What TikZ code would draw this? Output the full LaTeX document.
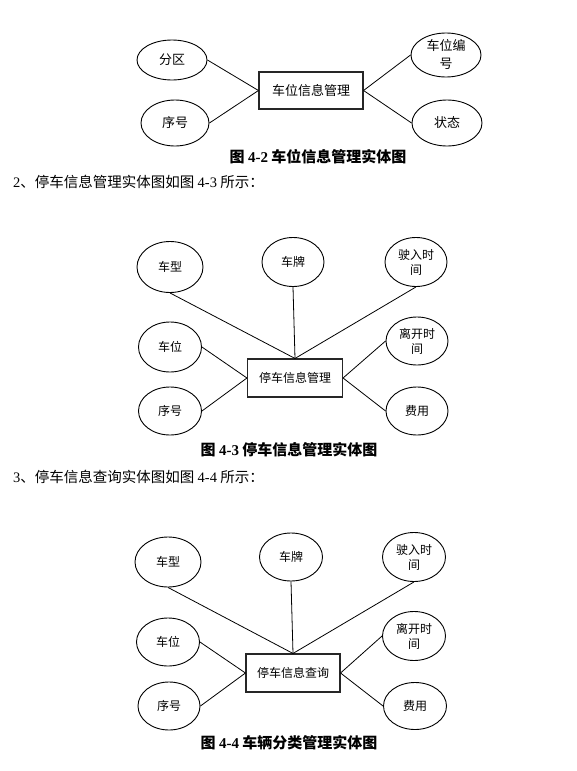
\documentclass[tikz,border=0pt]{standalone}
\usepackage{fontspec}
\setmainfont{Noto Sans CJK SC}
\newfontfamily\latinserif{Liberation Serif}
\usetikzlibrary{shapes.geometric}
\tikzset{
  attr/.style={draw=black, line width=0.9pt, ellipse, inner sep=0pt, align=center, font=\fontsize{12}{15}\selectfont},
  ent/.style={draw=black!85, line width=1.1pt, rectangle, inner sep=0pt, font=\fontsize{12.5}{15}\selectfont},
  link/.style={draw=black, line width=0.8pt},
  caption/.style={font=\fontsize{15}{18}\selectfont\bfseries},
  bodytext/.style={anchor=west, inner sep=0pt, font=\fontsize{14.5}{17}\selectfont}
}
\begin{document}
\begin{tikzpicture}[x=1pt,y=-1pt]
\useasboundingbox (0,0) rectangle (576,771);
% ---------- Figure 4-2 ----------
\node[ent, minimum width=104pt, minimum height=37pt, font=\fontsize{13}{15}\selectfont] (e1) at (311,90.5) {车位信息管理};
\node[attr, minimum width=70pt, minimum height=40pt, font=\fontsize{13}{15}\selectfont] (fq) at (172,60) {分区};
\node[attr, minimum width=68pt, minimum height=46pt, font=\fontsize{13}{15}\selectfont] (xh1) at (175,123) {序号};
\node[attr, minimum width=70pt, minimum height=44pt, font=\fontsize{13}{18}\selectfont] (cwbh) at (446,55) {车位编\\号};
\node[attr, minimum width=70pt, minimum height=46pt, font=\fontsize{13}{15}\selectfont] (zt) at (447,123) {状态};
\draw[link] (fq.east) -- (e1.west);
\draw[link] (xh1.east) -- (e1.west);
\draw[link] (cwbh.west) -- (e1.east);
\draw[link] (zt.west) -- (e1.east);
\node[caption] (cap1) at (318,157) {图 {\latinserif 4-2} 车位信息管理实体图};
\node[bodytext] (t2) at (13,182) {{\latinserif 2}、停车信息管理实体图如图 {\latinserif 4-3} 所示：};
% ---------- Figure 4-3 ----------
\node[ent, minimum width=95pt, minimum height=38pt, font=\fontsize{12}{15}\selectfont] (e2) at (295,378) {停车信息管理};
\node[attr, minimum width=66pt, minimum height=51pt] (cx2) at (170,267) {车型};
\node[attr, minimum width=62pt, minimum height=49pt] (cp2) at (293,262) {车牌};
\node[attr, minimum width=62pt, minimum height=49pt] (sr2) at (416,262) {驶入时\\间};
\node[attr, minimum width=63pt, minimum height=50pt] (cw2) at (170,347) {车位};
\node[attr, minimum width=63pt, minimum height=48pt] (xh2) at (170,411) {序号};
\node[attr, minimum width=62pt, minimum height=48pt] (lk2) at (417,341) {离开时\\间};
\node[attr, minimum width=62pt, minimum height=48pt] (fy2) at (417,411) {费用};
\draw[link] (cx2.south) -- (e2.north);
\draw[link] (cp2.south) -- (e2.north);
\draw[link] (sr2.south) -- (e2.north);
\draw[link] (cw2.east) -- (e2.west);
\draw[link] (xh2.east) -- (e2.west);
\draw[link] (lk2.west) -- (e2.east);
\draw[link] (fy2.west) -- (e2.east);
\node[caption] (cap2) at (289,450) {图 {\latinserif 4-3} 停车信息管理实体图};
\node[bodytext] (t3) at (13,477) {{\latinserif 3}、停车信息查询实体图如图 {\latinserif 4-4} 所示：};
% ---------- Figure 4-4 ----------
\node[ent, minimum width=94pt, minimum height=38pt, font=\fontsize{12}{15}\selectfont] (e3) at (293,673) {停车信息查询};
\node[attr, minimum width=66pt, minimum height=50pt] (cx3) at (168,562) {车型};
\node[attr, minimum width=63pt, minimum height=48pt] (cp3) at (291,557) {车牌};
\node[attr, minimum width=63pt, minimum height=49pt] (sr3) at (414,557) {驶入时\\间};
\node[attr, minimum width=63pt, minimum height=48pt] (cw3) at (168,642) {车位};
\node[attr, minimum width=62pt, minimum height=48pt] (xh3) at (169,706) {序号};
\node[attr, minimum width=63pt, minimum height=49pt] (lk3) at (414,636) {离开时\\间};
\node[attr, minimum width=63pt, minimum height=47pt] (fy3) at (415,706) {费用};
\draw[link] (cx3.south) -- (e3.north);
\draw[link] (cp3.south) -- (e3.north);
\draw[link] (sr3.south) -- (e3.north);
\draw[link] (cw3.east) -- (e3.west);
\draw[link] (xh3.east) -- (e3.west);
\draw[link] (lk3.west) -- (e3.east);
\draw[link] (fy3.west) -- (e3.east);
\node[caption] (cap3) at (289,743) {图 {\latinserif 4-4} 车辆分类管理实体图};
\end{tikzpicture}
\end{document}
